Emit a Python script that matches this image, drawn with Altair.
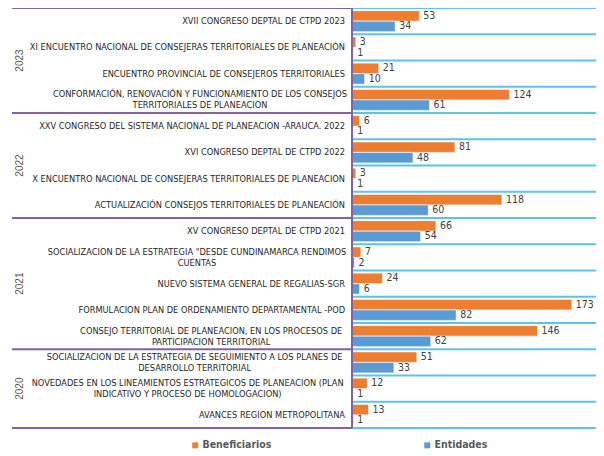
import altair as alt
import pandas as pd

# ---------------- data ----------------
years = ["2023"] * 4 + ["2022"] * 4 + ["2021"] * 5 + ["2020"] * 3
labels = [
    "XVII CONGRESO DEPTAL DE CTPD 2023",
    "XI ENCUENTRO NACIONAL DE CONSEJERAS TERRITORIALES DE PLANEACIÓN",
    "ENCUENTRO PROVINCIAL DE CONSEJEROS TERRITORIALES",
    "CONFORMACIÓN, RENOVACIÓN Y FUNCIONAMIENTO DE LOS CONSEJOS\nTERRITORIALES DE PLANEACION",
    "XXV CONGRESO DEL SISTEMA NACIONAL DE PLANEACION -ARAUCA. 2022",
    "XVI CONGRESO DEPTAL DE CTPD 2022",
    "X ENCUENTRO NACIONAL DE CONSEJERAS TERRITORIALES DE PLANEACION",
    "ACTUALIZACIÓN CONSEJOS TERRITORIALES DE PLANEACIÓN",
    "XV CONGRESO DEPTAL DE CTPD 2021",
    "SOCIALIZACION DE LA ESTRATEGIA \"DESDE CUNDINAMARCA RENDIMOS\nCUENTAS",
    "NUEVO SISTEMA GENERAL DE REGALIAS-SGR",
    "FORMULACION PLAN DE ORDENAMIENTO DEPARTAMENTAL -POD",
    "CONSEJO TERRITORIAL DE PLANEACION, EN LOS PROCESOS DE\nPARTICIPACION TERRITORIAL",
    "SOCIALIZACION DE LA ESTRATEGIA DE SEGUIMIENTO A LOS PLANES DE\nDESARROLLO TERRITORIAL",
    "NOVEDADES EN LOS LINEAMIENTOS ESTRATEGICOS DE PLANEACION (PLAN\nINDICATIVO Y PROCESO DE HOMOLOGACION)",
    "AVANCES REGION METROPOLITANA",
]
beneficiarios = [53, 3, 21, 124, 6, 81, 3, 118, 66, 7, 24, 173, 146, 51, 12, 13]
entidades = [34, 1, 10, 61, 1, 48, 1, 60, 54, 2, 6, 82, 62, 33, 1, 1]

series_names = ["Beneficiarios", "Entidades"]
colors = ["#ED7D31", "#5B9BD5"]

# ---------------- layout ----------------
NARROW = "'DejaVu Sans Condensed', 'Liberation Sans Narrow', sans-serif"
REG = "'Liberation Sans', Arial, sans-serif"
W, H = 244, 420
LEFT = 344
LABEL_FS = 9.2
LINE_H = 11
n = len(labels)
step = H / n
rows = list(range(n))


def est_width(s):
    # rough text-width estimate (em units) for centring two-line labels
    w = 0.0
    for ch in s:
        if ch == " ":
            w += 0.28
        elif ch in ",.-\"'()I":
            w += 0.32
        else:
            w += 0.6
    return w * LABEL_FS


long = pd.DataFrame({
    "row": rows * 2,
    "series": [series_names[0]] * n + [series_names[1]] * n,
    "value": beneficiarios + entidades,
})

lab = pd.DataFrame({"row": rows, "label": labels})
lab["multi"] = lab["label"].str.contains("\n")
lab["lx"] = [-10 - est_width(s.split("\n")[0]) / 2 for s in labels]
single = lab[~lab["multi"]]
multi = lab[lab["multi"]]

grp_order = ["2023", "2022", "2021", "2020"]
starts, counts = [], []
for g in grp_order:
    idx = [i for i, y in enumerate(years) if y == g]
    starts.append(idx[0])
    counts.append(len(idx))
grp = pd.DataFrame({"year": grp_order, "row": starts,
                    "cy": [(s + c / 2) * step for s, c in zip(starts, counts)]})

ysc = alt.Scale(domain=rows, paddingInner=0, paddingOuter=0)
Y = alt.Y("row:O", scale=ysc, axis=None)
Yb = alt.Y("row:O", scale=ysc, axis=None, bandPosition=0)
YO = alt.YOffset("series:N", sort=series_names,
                 scale=alt.Scale(domain=series_names, paddingInner=0, paddingOuter=0.25))
X = alt.X("value:Q", scale=alt.Scale(domain=[0, 192]), axis=None)

CYAN = "#5BC5E8"
PURPLE = "#8064A2"

row_lines = alt.Chart(lab).mark_rule(color=CYAN, strokeWidth=2).encode(
    y=Yb, x=alt.value(0), x2=alt.value(W))
bottom_cyan = alt.Chart(lab).mark_rule(color=CYAN, strokeWidth=2).encode(
    y=alt.value(H), x=alt.value(0), x2=alt.value(W))

grp_lines = alt.Chart(grp).mark_rule(color=PURPLE, strokeWidth=2).encode(
    y=Yb, x=alt.value(-340), x2=alt.value(0))
bottom_purple = alt.Chart(grp).mark_rule(color=PURPLE, strokeWidth=2).encode(
    y=alt.value(H), x=alt.value(-340), x2=alt.value(0))
vert_purple = alt.Chart(grp).mark_rule(color=PURPLE, strokeWidth=2).encode(
    x=alt.value(0), y=alt.value(0), y2=alt.value(H))

bars = alt.Chart(long).mark_bar(stroke="white", strokeWidth=0.6).encode(
    x=X, y=Y, yOffset=YO,
    color=alt.Color("series:N", sort=series_names,
                    scale=alt.Scale(domain=series_names, range=colors),
                    legend=alt.Legend(orient="none", legendX=-162, legendY=432,
                                      direction="horizontal", title=None,
                                      symbolType="square", symbolSize=36,
                                      symbolStrokeWidth=0,
                                      labelFont=NARROW, labelFontSize=10.5,
                                      labelFontWeight="bold", labelColor="#595959",
                                      columnPadding=150, labelOffset=2)),
)

values = alt.Chart(long).mark_text(align="left", baseline="middle", dx=4,
                                   font=NARROW, fontSize=10.5, color="#404040").encode(
    x=X, y=Y, yOffset=YO, text="value:Q")

single_txt = alt.Chart(single).mark_text(align="right", baseline="middle",
                                         font=NARROW, fontSize=LABEL_FS, color="#262626").encode(
    y=Y, x=alt.value(-7), text="label:N")
multi_txt = alt.Chart(multi).mark_text(align="center", baseline="middle", lineBreak="\n",
                                       lineHeight=LINE_H, dy=-LINE_H / 2,
                                       font=NARROW, fontSize=LABEL_FS, color="#262626").encode(
    y=Y, x=alt.X("lx:Q", scale=None), text="label:N")

year_txt = alt.Chart(grp).mark_text(angle=270, align="center", baseline="middle",
                                    font=REG, fontSize=10, color="#595959").encode(
    y=alt.Y("cy:Q", scale=None), x=alt.value(-332), text="year:N")

chart = alt.layer(
    row_lines, bottom_cyan, bars, values, grp_lines, bottom_purple, vert_purple,
    single_txt, multi_txt, year_txt,
).properties(
    width=W, height=H,
    autosize=alt.AutoSizeParams(type="none"),
    padding={"left": LEFT, "top": 0, "right": 0, "bottom": 26},
).configure_view(stroke=None)

chart.save("out.html", embed_options={"renderer": "svg", "actions": False})
